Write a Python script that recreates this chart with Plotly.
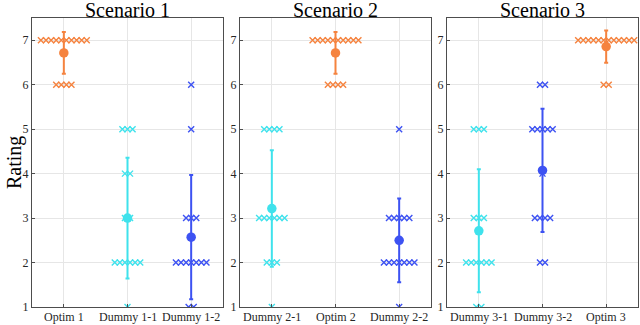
import numpy as np
import plotly.graph_objects as go
from plotly.subplots import make_subplots

# Ratings 1..7 and how many participants gave each rating
ratings = [1, 2, 3, 4, 5, 6, 7]

scenario_titles = ["Scenario 1", "Scenario 2", "Scenario 3"]
scenario_labels = [
    ["Optim 1", "Dummy 1-1", "Dummy 1-2"],
    ["Dummy 2-1", "Optim 2", "Dummy 2-2"],
    ["Dummy 3-1", "Dummy 3-2", "Optim 3"],
]

# counts per rating (1..7)
optim_1 = [0, 0, 0, 0, 0, 4, 10]
dummy_1_1 = [1, 6, 2, 2, 3, 0, 0]
dummy_1_2 = [2, 7, 3, 0, 1, 1, 0]
dummy_2_1 = [1, 3, 6, 0, 4, 0, 0]
optim_2 = [0, 0, 0, 0, 0, 4, 10]
dummy_2_2 = [1, 7, 5, 0, 1, 0, 0]
dummy_3_1 = [2, 6, 3, 0, 3, 0, 0]
dummy_3_2 = [0, 2, 4, 1, 5, 2, 0]
optim_3 = [0, 0, 0, 0, 0, 2, 12]

scenario_counts = [
    [optim_1, dummy_1_1, dummy_1_2],
    [dummy_2_1, optim_2, dummy_2_2],
    [dummy_3_1, dummy_3_2, optim_3],
]

ORANGE = "#F5833F"
CYAN = "#3FE2EC"
BLUE = "#3D52F2"
scenario_colors = [
    [ORANGE, CYAN, BLUE],
    [CYAN, ORANGE, BLUE],
    [CYAN, BLUE, ORANGE],
]

FONT = "Liberation Serif"
SPREAD = 0.08  # horizontal gap between crosses in a row

fig = make_subplots(rows=1, cols=3, horizontal_spacing=0.03)

domains = [[32 / 640, 223 / 640], [240 / 640, 431 / 640], [447 / 640, 638 / 640]]

for col, (labels, counts, colors) in enumerate(zip(scenario_labels, scenario_counts, scenario_colors), start=1):
    for pos, (lab, cnt, color) in enumerate(zip(labels, counts, colors), start=1):
        # swarm of crosses
        xs, ys = [], []
        for r, k in zip(ratings, cnt):
            for i in range(k):
                xs.append(pos + (i - (k - 1) / 2) * SPREAD)
                ys.append(r)
        fig.add_trace(go.Scatter(
            x=xs, y=ys, mode="markers", showlegend=False, hoverinfo="skip",
            marker=dict(symbol="x-thin", size=6, line=dict(width=1.4, color=color)),
        ), row=1, col=col)

        # mean and sample std
        vals = np.repeat(ratings, cnt)
        mean = vals.mean()
        std = vals.std(ddof=1)
        fig.add_trace(go.Scatter(
            x=[pos], y=[mean], mode="markers", showlegend=False,
            marker=dict(symbol="circle", size=9.5, color=color),
            error_y=dict(type="data", array=[std], color=color, thickness=2, width=2),
            hovertemplate=f"{lab}<br>mean %{{y:.2f}}<extra></extra>",
        ), row=1, col=col)

        # category label under the axis
        xref = "x" if col == 1 else f"x{col}"
        fig.add_annotation(
            text=lab, x=pos, y=0, xref=xref, yref="paper",
            xanchor="center", yanchor="top", yshift=-1, showarrow=False,
            font=dict(family=FONT, size=12, color="#262626"),
        )

    fig.update_xaxes(
        tickmode="array", tickvals=[1, 2, 3], showticklabels=False,
        range=[0.5, 3.5], domain=domains[col - 1], row=1, col=col,
    )

fig.update_xaxes(
    automargin=False,
    showgrid=True, gridcolor="#e6e6e6", gridwidth=1,
    showline=True, linecolor="#4d4d4d", linewidth=1, mirror=True,
    ticks="inside", ticklen=3, tickcolor="#4d4d4d",
    zeroline=False,
)
fig.update_yaxes(
    automargin=False,
    range=[1, 7.5], tickvals=ratings,
    showgrid=True, gridcolor="#e6e6e6", gridwidth=1,
    showline=True, linecolor="#4d4d4d", linewidth=1, mirror=True,
    ticks="inside", ticklen=3, tickcolor="#4d4d4d",
    tickfont=dict(family=FONT, size=12, color="#262626"),
    zeroline=False,
)

for col, title in enumerate(scenario_titles):
    dom = domains[col]
    fig.add_annotation(
        text=title, x=(dom[0] + dom[1]) / 2, y=1.0, xref="paper", yref="paper",
        xanchor="center", yanchor="middle", yshift=8, showarrow=False,
        font=dict(family=FONT, size=20, color="#000000"),
    )

fig.add_annotation(
    text="Rating", x=0, y=0.5, xref="paper", yref="paper", xshift=1,
    xanchor="left", yanchor="middle", textangle=-90, showarrow=False,
    font=dict(family=FONT, size=20, color="#000000"),
)

fig.update_layout(
    width=640, height=325,
    margin=dict(l=0, r=0, t=18, b=18),
    paper_bgcolor="white", plot_bgcolor="white",
)

fig.write_html(
    "out.html",
    config={"displayModeBar": False},
    post_script="document.body.style.margin='0';",
)
